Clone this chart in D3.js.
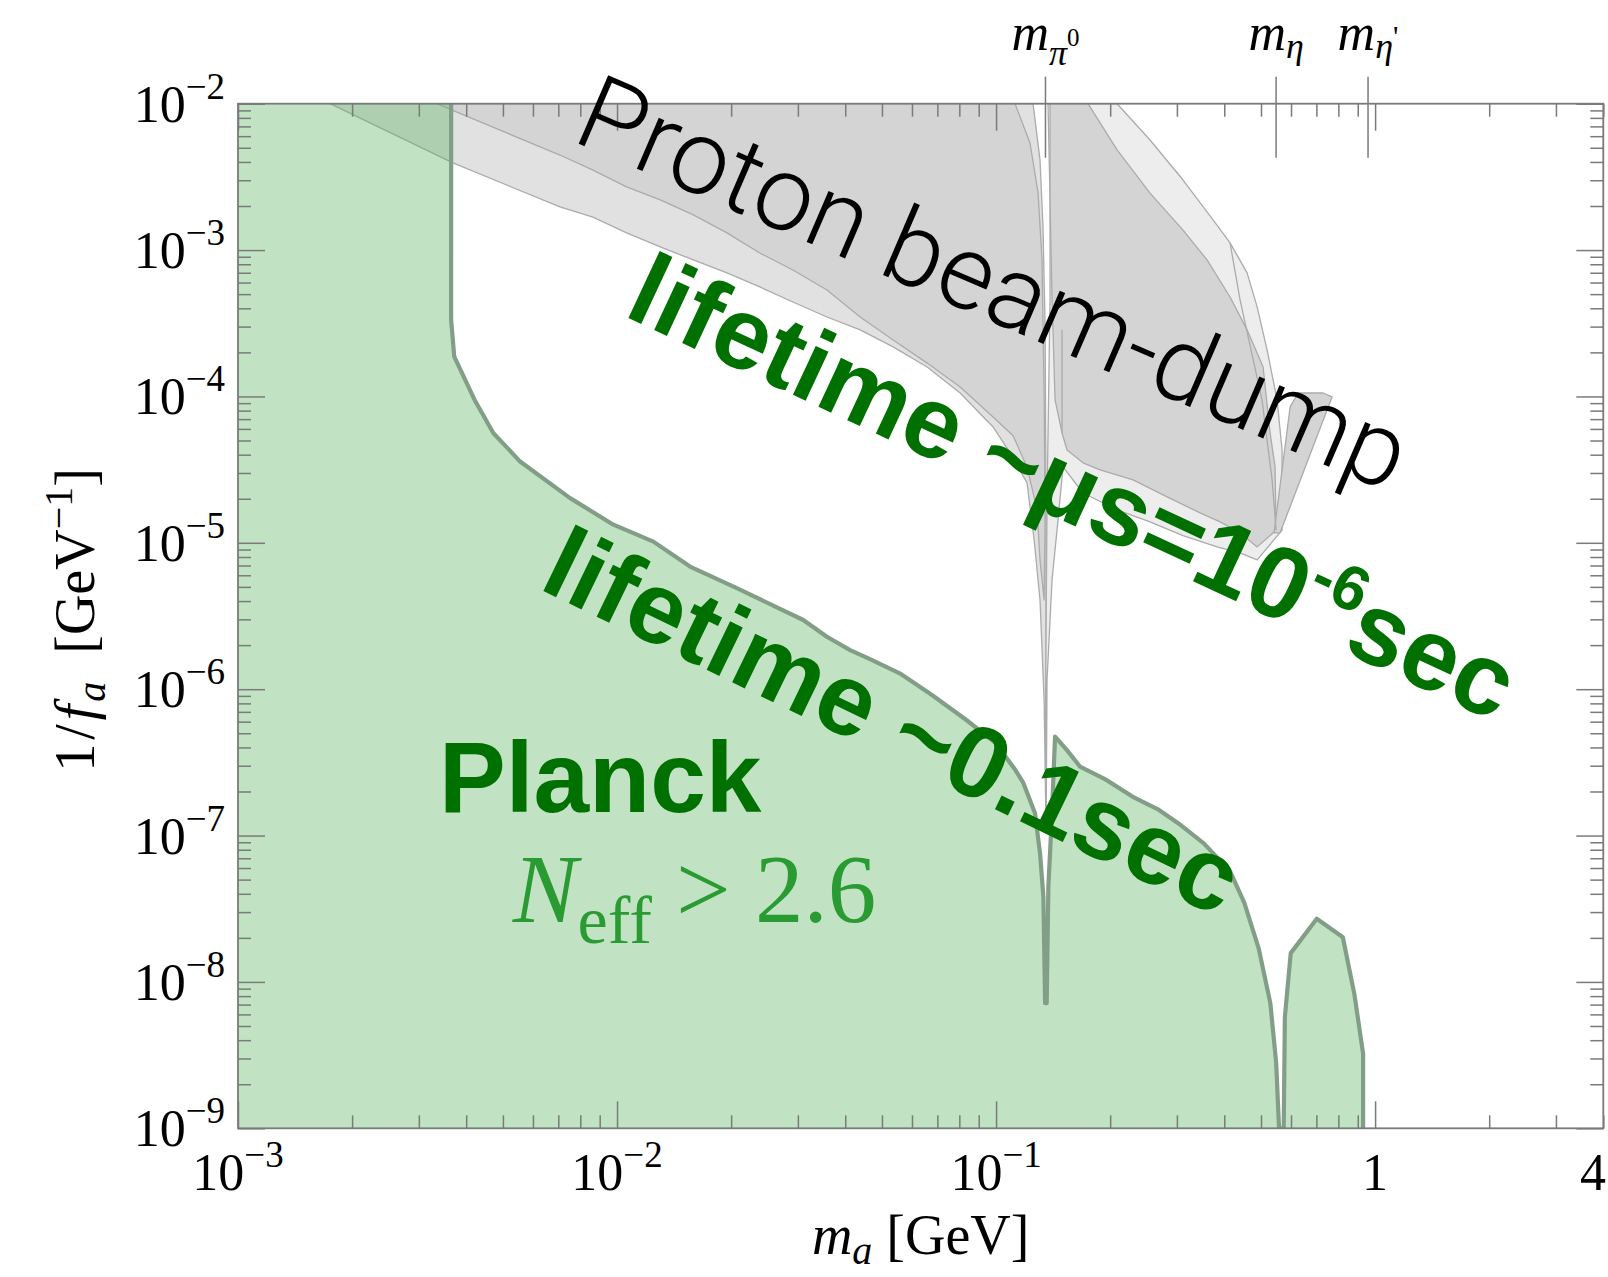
<!DOCTYPE html>
<html><head><meta charset="utf-8">
<script src="https://cdn.jsdelivr.net/npm/d3@7"></script>
<style>
html,body{margin:0;padding:0;background:#fff;}
svg{display:block;}
</style></head><body>
<svg id="chart" width="1608" height="1277"></svg>
<script>
// ---------------- DATA (m_a in GeV, 1/f_a in GeV^-1) ----------------
const xDomain = [1e-3, 4];
const yDomain = [1e-9, 1e-2];

const xLabelValues = [1e-3, 1e-2, 1e-1, 1, 4];
const xLabelBase   = ["10", "10", "10", "1", "4"];
const xLabelExp    = ["\u22123", "\u22122", "\u22121", "", ""];

const yLabelValues = [1e-9, 1e-8, 1e-7, 1e-6, 1e-5, 1e-4, 1e-3, 1e-2];
const yLabelExp    = ["\u22129", "\u22128", "\u22127", "\u22126", "\u22125", "\u22124", "\u22123", "\u22122"];

// Planck (N_eff) excluded region upper boundary
const planckBoundary = [
  [3.65e-3,1e-2],[3.65e-3,3.33e-4],[3.72e-3,1.87e-4],[4.21e-3,9.46e-5],[4.72e-3,5.61e-5],
  [5.55e-3,3.59e-5],[7.52e-3,2.02e-5],[9.78e-3,1.33e-5],[1.247e-2,1.019e-5],[1.558e-2,6.88e-6],
  [2.07e-2,4.90e-6],[3.10e-2,2.97e-6],[3.57e-2,2.29e-6],[4.12e-2,1.85e-6],[4.59e-2,1.63e-6],
  [5.57e-2,1.284e-6],[6.76e-2,9.16e-7],[8.35e-2,6.16e-7],[9.96e-2,4.30e-7],[0.1126,2.79e-7],
  [0.1181,2.28e-7],[0.1267,1.42e-7],[0.1306,7.58e-8],[0.1333,3.83e-8],[0.1347,7.16e-9],
  [0.1360,7.16e-9],[0.1374,4.48e-8],[0.1402,1.28e-7],[0.1431,4.75e-7],[0.1536,3.85e-7],
  [0.1665,2.96e-7],[0.1943,2.42e-7],[0.2317,1.815e-7],[0.2667,1.517e-7],[0.3070,1.179e-7],
  [0.3532,8.85e-8],[0.4138,5.74e-8],[0.4519,3.47e-8],[0.4932,1.69e-8],[0.5293,7.13e-9],
  [0.5483,2.80e-9],[0.558,1e-9],[0.574,1e-9],[0.578,5.75e-9],[0.599,1.573e-8],
  [0.7017,2.70e-8],[0.822,2.02e-8],[0.8819,8.23e-9],[0.9297,3.23e-9],[0.9297,1e-9]
];

// Proton beam-dump excluded regions
const beamDumpLeftOuter = [
  [1.75e-3,1e-2],[0.1252,1e-2],[0.1306,4.12e-3],[0.1330,1.44e-3],[0.1347,2.98e-4],[0.1355,1.96e-5],
  [0.1355,8.45e-7],[0.1355,1.04e-7],[0.1339,8.45e-7],[0.1306,4.07e-6],[0.1260,1.05e-5],[0.1207,2.57e-5],
  [0.1089,4.11e-5],[9.82e-2,6.19e-5],[8.04e-2,1.056e-4],[6.58e-2,1.59e-4],[5.35e-2,2.18e-4],
  [4.38e-2,2.85e-4],[3.58e-2,3.49e-4],[2.91e-2,4.42e-4],[2.38e-2,5.60e-4],[1.95e-2,6.98e-4],
  [1.59e-2,8.56e-4],[1.30e-2,1.05e-3],[1.06e-2,1.31e-3],[8.64e-3,1.68e-3],[7.07e-3,1.97e-3],[3.69e-3,3.94e-3]
];
const beamDumpLeftInner = [
  [3.35e-3,1e-2],[0.1122,1e-2],[0.1229,5.39e-3],[0.1291,2.45e-3],[0.1322,8.56e-4],[0.1339,1.056e-4],
  [0.1347,1.43e-5],[0.1339,4.07e-6],[0.1306,7.64e-6],[0.1283,1.68e-5],[0.1207,3.30e-5],[0.1109,5.39e-5],
  [9.82e-2,7.24e-5],[8.04e-2,1.16e-4],[6.58e-2,1.69e-4],[5.35e-2,2.43e-4],[4.38e-2,3.49e-4],
  [3.58e-2,5.34e-4],[2.91e-2,7.31e-4],[2.38e-2,9.55e-4],[1.95e-2,1.31e-3],[1.59e-2,1.74e-3],
  [1.30e-2,2.20e-3],[1.06e-2,2.70e-3],[8.64e-3,3.52e-3],[7.07e-3,4.46e-3],[3.66e-3,9.06e-3]
];
const beamDumpRightOuter = [
  [0.1371,1e-2],[0.2086,1e-2],[0.2548,5.65e-3],[0.3114,3.01e-3],[0.3737,1.61e-3],[0.4143,1.12e-3],
  [0.4595,6.98e-4],[0.4884,4.09e-4],[0.5188,2.08e-4],[0.5513,9.47e-5],[0.5683,4.31e-5],[0.5683,1.22e-5],
  [0.4884,7.64e-6],[0.4403,8.53e-6],[0.3830,9.38e-6],[0.3114,1.12e-5],[0.2548,1.39e-5],[0.2086,1.68e-5],
  [0.1696,2.19e-5],[0.1502,3.30e-5],[0.1457,1.43e-5],[0.1405,5.58e-6],[0.1363,1.16e-6],[0.1355,1.04e-7],
  [0.1351,8.45e-7],[0.1363,1.96e-5],[0.1388,4.56e-4],[0.1388,2.20e-3]
];
const beamDumpRightInner = [
  [0.1388,1e-2],[0.1748,1e-2],[0.2086,4.83e-3],[0.2548,2.45e-3],[0.3114,1.37e-3],[0.3603,8.56e-4],
  [0.4143,4.78e-4],[0.4595,2.85e-4],[0.5064,1.59e-4],[0.5284,5.63e-5],[0.5446,3.30e-5],[0.5480,1.22e-5],
  [0.4884,9.38e-6],[0.4403,1.17e-5],[0.3899,1.39e-5],[0.3454,1.60e-5],[0.2826,2.06e-5],[0.2299,2.69e-5],
  [0.1881,3.15e-5],[0.1696,3.52e-5],[0.1539,4.31e-5],[0.1493,5.63e-5],[0.1431,9.47e-5],[0.1405,4.56e-4],[0.1388,2.20e-3]
];
const beamDumpEtaBump = [
  [0.5413,1.17e-5],[0.5968,8.48e-5],[0.6264,1.056e-4],[0.7292,1.056e-4],[0.7700,9.92e-5],[0.5615,1.17e-5]
];
const beamDumpEdgeLines = [
  [[0.1493,2.85e-4],[0.1493,5.63e-5]],
  [[0.4143,1.12e-3],[0.4403,4.56e-4],[0.5030,9.47e-5],[0.5349,2.69e-5],[0.5480,1.22e-5]]
];

// meson mass markers
const mesonMasses = [0.135, 0.548, 0.958];
const mesonSub    = ["\u03c0", "\u03b7", "\u03b7"];
const mesonSup    = ["0", "", "'"];

// annotation anchors [m, 1/f_a]
const annotProton   = [7.52e-3, 5.65e-3];
const annotLifeUs   = [1.031e-2, 3.60e-4];
const annotLife01   = [6.15e-3, 4.92e-6];
const annotPlanck   = [3.39e-3, 1.45e-7];
const annotNeff     = [5.31e-3, 2.57e-8];

// ---------------- DRAW ----------------
const svg = d3.select("#chart");
const L = 238, R = 1603.3, T = 103.7, B = 1128.3;
const x = d3.scaleLog().domain(xDomain).range([L, R]);
const y = d3.scaleLog().domain(yDomain).range([B, T]);
const axisColor = "#7a7a7a";
const serif = "'Liberation Serif', 'Times New Roman', serif";
const sans = "'Liberation Sans', Arial, Helvetica, sans-serif";

svg.append("defs").append("clipPath").attr("id","plotclip")
  .append("rect").attr("x",L).attr("y",T).attr("width",R-L).attr("height",B-T);

const plot = svg.append("g").attr("clip-path","url(#plotclip)");
const line = d3.line().x(d => x(d[0])).y(d => y(d[1]));

function poly(data, fill) {
  plot.append("path").attr("d", line(data) + "Z")
    .attr("fill", fill).attr("stroke", "#ababab").attr("stroke-width", 1.3)
    .attr("stroke-linejoin","round");
}
poly(beamDumpLeftOuter, "#e1e1e1");
poly(beamDumpLeftInner, "#d4d4d4");
poly(beamDumpRightOuter, "#ededed");
poly(beamDumpRightInner, "#d4d4d4");
poly(beamDumpEtaBump, "#d4d4d4");
beamDumpEdgeLines.forEach(l => plot.append("path").attr("d", line(l))
  .attr("fill","none").attr("stroke","#ababab").attr("stroke-width",1.3));

// Planck region
const planckArea = [[xDomain[0], yDomain[0]], [xDomain[0], yDomain[1]]].concat(planckBoundary);
plot.append("path").attr("d", line(planckArea) + "Z")
  .attr("fill", "rgb(96,183,104)").attr("fill-opacity", 0.39).attr("stroke","none");
plot.append("path").attr("d", line(planckBoundary))
  .attr("fill","none").attr("stroke","#829e87").attr("stroke-width",4.2).attr("stroke-linejoin","round");

// meson marker lines
mesonMasses.forEach(m => {
  svg.append("line").attr("x1", x(m)).attr("x2", x(m)).attr("y1", T - 27).attr("y2", T + 54)
    .attr("stroke", axisColor).attr("stroke-width", 1.5);
});
mesonMasses.forEach((m, i) => {
  const t = svg.append("text").attr("x", x(m)).attr("y", 50).attr("text-anchor","middle")
    .attr("font-family", serif).attr("font-style","italic").attr("fill","#000");
  t.append("tspan").attr("font-size", 52).text("m");
  t.append("tspan").attr("font-size", 36).attr("dy", i === 0 ? 15 : 8).text(mesonSub[i]);
  if (mesonSup[i]) {
    t.append("tspan").attr("font-size", i === 0 ? 25 : 30).attr("font-style","normal")
      .attr("dy", i === 0 ? -19 : -12).text(mesonSup[i]);
  }
});

// frame
svg.append("rect").attr("x",L).attr("y",T).attr("width",R-L).attr("height",B-T)
  .attr("fill","none").attr("stroke",axisColor).attr("stroke-width",1.8);

// ticks
const xt = x.ticks(), yt = y.ticks();
const isMajor = v => Math.abs(Math.log10(v) - Math.round(Math.log10(v))) < 1e-9;
const xMaj = xt.filter(isMajor), xMin = xt.filter(v => !isMajor(v));
const yMaj = yt.filter(isMajor), yMin = yt.filter(v => !isMajor(v));
function ticks(gen, tr, vals, size) {
  const g = svg.append("g").attr("transform", tr)
    .call(gen.tickValues(vals).tickSize(size).tickFormat(""));
  g.select(".domain").remove();
  g.selectAll(".tick line").attr("stroke", axisColor).attr("stroke-width", 1.5);
  g.selectAll(".tick text").remove();
}
ticks(d3.axisBottom(x), `translate(0,${B})`, xMaj, -27);
ticks(d3.axisBottom(x), `translate(0,${B})`, xMin, -13);
ticks(d3.axisTop(x), `translate(0,${T})`, xMaj, -27);
ticks(d3.axisTop(x), `translate(0,${T})`, xMin, -13);
ticks(d3.axisLeft(y), `translate(${L},0)`, yMaj, -27);
ticks(d3.axisLeft(y), `translate(${L},0)`, yMin, -13);
ticks(d3.axisRight(y), `translate(${R},0)`, yMaj, -27);
ticks(d3.axisRight(y), `translate(${R},0)`, yMin, -13);

// tick labels
xLabelValues.forEach((v, i) => {
  const t = svg.append("text").attr("x", x(v)).attr("y", B + 62).attr("text-anchor","middle")
    .attr("font-family", serif).attr("font-size", 52).attr("fill","#000");
  t.append("tspan").text(xLabelBase[i]);
  if (xLabelExp[i]) t.append("tspan").attr("font-size", 37).attr("dy", -23).text(xLabelExp[i]);
  const bb = t.node().getBBox();
  if (bb.x + bb.width > 1606) t.attr("x", x(v) - (bb.x + bb.width - 1606));
});
yLabelValues.forEach((v, i) => {
  const t = svg.append("text").attr("x", L - 13).attr("y", y(v) + 18).attr("text-anchor","end")
    .attr("font-family", serif).attr("font-size", 52).attr("fill","#000");
  t.append("tspan").text("10");
  t.append("tspan").attr("font-size", 37).attr("dy", -23).text(yLabelExp[i]);
});

// axis titles
{
  const t = svg.append("text").attr("x", (L + R) / 2).attr("y", 1254).attr("text-anchor","middle")
    .attr("font-family", serif).attr("font-size", 56).attr("fill","#000");
  t.append("tspan").attr("font-style","italic").text("m");
  t.append("tspan").attr("font-style","italic").attr("font-size", 40).attr("dy", 10).text("a");
  t.append("tspan").attr("dy", -10).text(" [GeV]");
}
{
  const t = svg.append("text").attr("transform", `translate(94,${(T + B) / 2 + 4}) rotate(-90)`)
    .attr("text-anchor","middle").attr("font-family", serif).attr("font-size", 56).attr("fill","#000");
  t.append("tspan").text("1");
  t.append("tspan").attr("dx", 4).text("/");
  t.append("tspan").attr("dx", 4).attr("font-style","italic").text("f");
  t.append("tspan").attr("dx", 3).attr("font-style","italic").attr("font-size", 40).attr("dy", 11).text("a");
  t.append("tspan").attr("dy", -11).text("\u00a0\u00a0[GeV");
  t.append("tspan").attr("font-size", 40).attr("dy", -22).text("\u22121");
  t.append("tspan").attr("dy", 22).text("]");
}

// annotations
function at(p) { return `translate(${x(p[0])},${y(p[1])})`; }
svg.append("text").attr("transform", at(annotProton) + " rotate(23.3)")
  .attr("font-family","Roboto, 'Liberation Sans', sans-serif").attr("font-weight", 300)
  .attr("font-size", 105).attr("fill","#000").text("Proton beam-dump");

{
  const t = svg.append("text").attr("transform", at(annotLifeUs) + " rotate(25)")
    .attr("font-family", sans).attr("font-weight","bold").attr("font-size", 102).attr("fill","#007000");
  t.append("tspan").text("lifetime ~\u03bcs=10");
  t.append("tspan").attr("font-size", 63).attr("dy", -39).text("-6");
  t.append("tspan").attr("dy", 39).text("sec");
}
svg.append("text").attr("transform", at(annotLife01) + " rotate(25.8)")
  .attr("font-family", sans).attr("font-weight","bold").attr("font-size", 102).attr("fill","#007000")
  .text("lifetime ~0.1sec");
svg.append("text").attr("transform", at(annotPlanck))
  .attr("font-family", sans).attr("font-weight","bold").attr("font-size", 100).attr("fill","#007000")
  .text("Planck");
{
  const t = svg.append("text").attr("transform", at(annotNeff))
    .attr("font-family", serif).attr("font-size", 97).attr("fill","#2a9a32");
  t.append("tspan").attr("font-style","italic").text("N");
  t.append("tspan").attr("font-size", 68).attr("dy", 21).text("eff");
  t.append("tspan").attr("dy", -21).text(" > 2.6");
}
</script></body></html>
